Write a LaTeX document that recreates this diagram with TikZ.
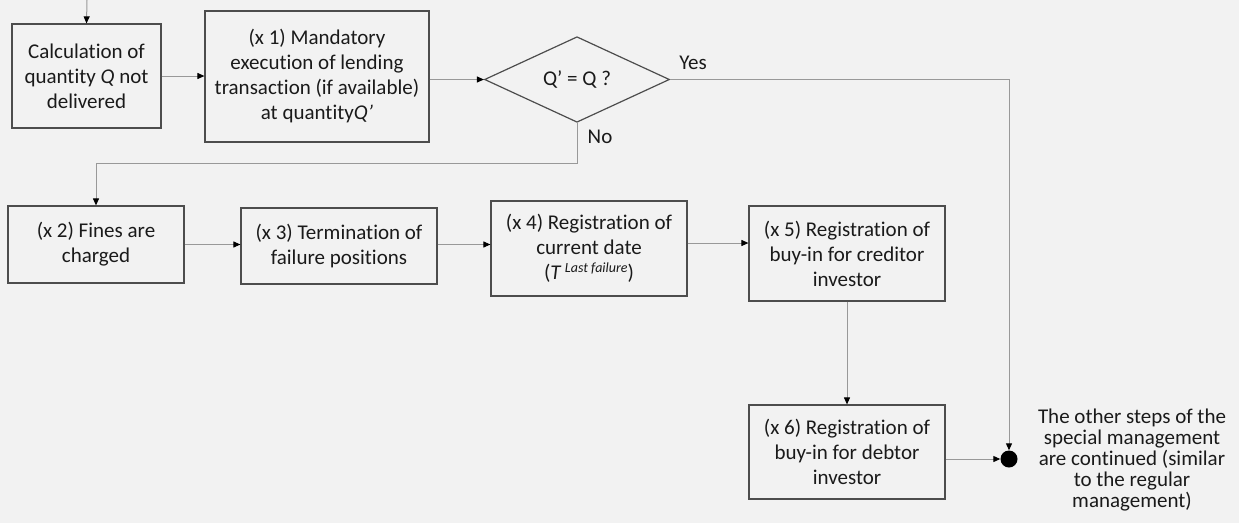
\documentclass[tikz,border=0pt]{standalone}
\usepackage{fontspec}
\setmainfont{Carlito}[Ligatures={NoCommon}]
\usetikzlibrary{arrows.meta,shapes.geometric}
\definecolor{bgc}{HTML}{F2F2F2}
\definecolor{txtc}{HTML}{1A1A1A}
\definecolor{linec}{HTML}{999999}
\definecolor{boxc}{HTML}{4D4D4D}
\tikzset{
  stepbox/.style={draw=boxc, line width=1.2pt, align=center, inner sep=0pt, text=txtc,
    font=\fontsize{21}{25}\selectfont},
  conn/.style={draw=linec, line width=1pt, -{Triangle[length=7pt,width=6pt,color=black]}},
  lbl/.style={text=txtc, font=\fontsize{21}{25}\selectfont, inner sep=0pt}
}
\begin{document}
\begin{tikzpicture}[x=1pt,y=-1pt]
\fill[bgc] (0,0) rectangle (1239,523);
\useasboundingbox (0,0) rectangle (1239,523);

\node[stepbox, minimum width=149pt, minimum height=104pt] (A) at (86.5,76)
  {Calculation of\\quantity \textit{Q} not\\delivered};
\node[stepbox, minimum width=224pt, minimum height=131pt] (B) at (317,76.5)
  {(x 1) Mandatory\\execution of lending\\transaction (if available)\\at quantity\textit{Q’}};
\node[stepbox, shape=diamond, minimum width=185pt, minimum height=84pt] (dia) at (577,79.5)
  {Q’ = Q ?};
\node[stepbox, minimum width=176pt, minimum height=77pt] (C) at (96,244.5)
  {(x 2) Fines are\\charged};
\node[stepbox, minimum width=196pt, minimum height=76pt] (D) at (339,246)
  {(x 3) Termination of\\failure positions};
\node[stepbox, minimum width=196pt, minimum height=95pt] (E) at (589,248.5)
  {(x 4) Registration of\\current date\\(\textit{T}\,\raisebox{7pt}{\fontsize{14}{14}\selectfont\textit{Last failure}})};
\node[stepbox, minimum width=196pt, minimum height=95pt] (F) at (847,253.5)
  {(x 5) Registration of\\buy-in for creditor\\investor};
\node[stepbox, minimum width=196pt, minimum height=94pt] (G) at (847,452)
  {(x 6) Registration of\\buy-in for debtor\\investor};
\node[circle, fill=black, minimum size=17pt, inner sep=0pt] (dot) at (1009,459) {};
\node[lbl, align=center, font=\fontsize{21}{20.8}\selectfont] (note) at (1132,460)
  {The other steps of the\\special management\\are continued (similar\\to the regular\\management)};
\node[lbl] (yes) at (693,63) {Yes};
\node[lbl] (no) at (600,137) {No};

\coordinate (start) at (87,0);
\coordinate (n1) at (577,163);
\coordinate (n2) at (96,163);

\draw[conn] (start) -- (A.north);
\draw[conn] (A.east) -- (B.west |- A.east);
\draw[conn] (B.east |- dia.west) -- (dia.west);
\draw[conn] (dia.east) -| (dot.north);
\draw[conn] (dia.south) -- (n1) -- (n2) -- (C.north);
\draw[conn] (C.east) -- (D.west |- C.east);
\draw[conn] (D.east |- C.east) -- (E.west |- C.east);
\draw[conn] (E.east |- 0,243) -- (F.west |- 0,243);
\draw[conn] (F.south) -- (G.north);
\draw[conn] (G.east |- dot.west) -- (dot.west);
\end{tikzpicture}
\end{document}
